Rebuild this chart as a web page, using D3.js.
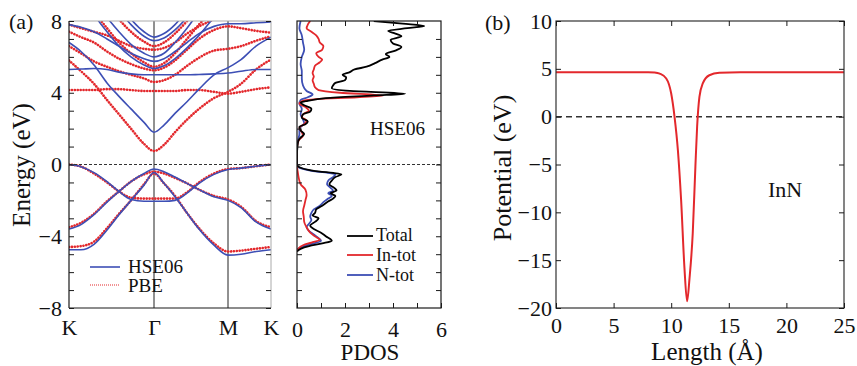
<!DOCTYPE html>
<html><head><meta charset="utf-8">
<script src="https://cdn.jsdelivr.net/npm/d3@7"></script>
<style>
body{margin:0;background:#fff}
text{font-family:"Liberation Serif","Times New Roman",serif;fill:#111}
</style>
</head><body><svg id="c" width="857" height="366"></svg>
<script>
// ---------- Panel (a): band structure ----------
const kPath  = [0, 12, 25, 38, 50, 62, 75, 85, 95, 106, 118, 130, 145, 159, 172, 187, 202];
const kTicks = [0, 85, 159, 202];
const kLabels = ["K", "Γ", "M", "K"];

const hseBands = [
  [0, -0.12, -0.45, -0.95, -1.5, -1.95, -2.05, -2.05, -2.05, -2.0, -1.6, -1.05, -0.55, -0.28, -0.2, -0.1, 0],
  [-3.6, -3.35, -2.8, -2.1, -1.5, -0.95, -0.5, -0.25, -0.4, -0.7, -1.05, -1.4, -1.8, -2.0, -2.4, -3.2, -3.6],
  [-4.75, -4.75, -4.45, -3.65, -2.8, -2.0, -1.15, -0.45, -1.05, -1.8, -2.7, -3.6, -4.5, -5.05, -5.0, -4.85, -4.75],
  [6.8, 6.3, 5.55, 4.55, 3.8, 3.1, 2.35, 1.8, 2.2, 2.85, 3.5, 4.2, 5.0, 5.4, 5.85, 6.6, 7.1],
  [5.3, 5.32, 5.35, 5.3, 5.15, 5.05, 5.0, 5.0, 5.0, 5.0, 5.0, 5.02, 5.05, 5.1, 5.2, 5.3, 5.3],
  [11, 10, 8.4, 7.4, 6.6, 6.0, 5.55, 5.35, 5.5, 5.9, 6.5, 7.2, 8.2, 9, 10, 11, 11],
  [7.8, 7.65, 7.4, 7.0, 6.6, 6.2, 5.9, 5.75, 5.9, 6.3, 6.8, 7.3, 7.7, 7.85, 7.85, 7.9, 7.95],
  [11, 10.5, 9.2, 8.2, 7.4, 6.7, 6.2, 6.0, 6.2, 6.8, 7.6, 8.5, 9.5, 10, 10, 10, 10],
  [11, 11, 10.5, 9.5, 8.6, 7.8, 7.15, 6.9, 7.05, 7.5, 8.2, 9.0, 10, 10, 10, 10, 10],
  [11, 11, 11, 10, 9.0, 8.1, 7.4, 7.1, 7.3, 7.8, 8.6, 9.5, 10, 10, 10, 10, 10]
];
const pbeBands = [
  [0, -0.12, -0.5, -1.0, -1.5, -1.85, -1.9, -1.9, -1.9, -1.9, -1.55, -1.0, -0.5, -0.25, -0.2, -0.1, 0],
  [-3.5, -3.25, -2.75, -2.05, -1.5, -0.95, -0.55, -0.4, -0.5, -0.75, -1.05, -1.4, -1.75, -1.95, -2.35, -3.15, -3.5],
  [-4.6, -4.55, -4.3, -3.55, -2.75, -2.0, -1.1, -0.5, -1.05, -1.75, -2.7, -3.55, -4.4, -4.85, -4.8, -4.7, -4.6],
  [5.8, 5.2, 4.5, 3.6, 2.8, 2.0, 1.15, 0.75, 1.1, 1.8, 2.5, 3.1, 3.7, 4.05, 4.5, 5.3, 5.85],
  [4.15, 4.15, 4.15, 4.2, 4.2, 4.15, 4.1, 4.1, 4.1, 4.1, 4.15, 4.15, 4.05, 3.95, 4.05, 4.2, 4.3],
  [6.6, 6.2, 5.75, 5.45, 5.2, 5.0, 4.8, 4.6, 4.7, 5.0, 5.5, 5.95, 6.35, 6.45, 6.6, 6.9, 7.15],
  [7.4, 7.1, 6.8, 6.3, 5.9, 5.6, 5.35, 5.25, 5.4, 5.8, 6.4, 7.0, 7.5, 7.7, 7.6, 7.45, 7.35],
  [7.8, 7.6, 7.4, 7.2, 6.9, 6.6, 6.45, 6.4, 6.5, 6.8, 7.3, 7.7, 8.1, 8.5, 9, 9, 9],
  [10, 9.4, 8.5, 7.6, 6.8, 6.2, 5.7, 5.45, 5.65, 6.2, 7.0, 7.8, 8.7, 9.5, 10, 10, 10],
  [11, 10.5, 9.8, 9.0, 8.1, 7.4, 6.85, 6.6, 6.8, 7.3, 8.0, 8.8, 9.8, 10, 10, 10, 10]
];
const energyTicks = [-8, -4, 0, 4, 8];

// ---------- PDOS: [energy (eV), PDOS] ----------
const pdosTotal = [[8.0,3.2],[7.85,4.4],[7.72,5.3],[7.6,4.6],[7.45,3.8],[7.3,4.1],[7.15,4.35],[6.95,3.9],[6.75,4.0],[6.55,4.35],[6.35,4.1],[6.15,3.7],[6.0,3.85],[5.85,3.55],[5.65,3.25],[5.45,2.9],[5.3,2.4],[5.15,2.2],[5.0,1.9],[4.85,2.05],[4.7,2.0],[4.55,1.6],[4.4,1.5],[4.25,1.45],[4.1,2.2],[3.95,4.5],[3.85,3.2],[3.7,1.2],[3.55,0.45],[3.45,0.15],[3.3,0.3],[3.1,0.6],[2.95,0.55],[2.8,0.25],[2.6,0.2],[2.4,0.45],[2.25,0.35],[2.1,0.1],[1.9,0.15],[1.7,0.3],[1.5,0.15],[1.3,0.05],[1.0,0.02],[0.6,0],[0,0],[-0.15,0.1],[-0.35,0.7],[-0.55,1.85],[-0.7,1.6],[-0.9,1.45],[-1.1,1.35],[-1.3,1.55],[-1.45,1.65],[-1.6,1.4],[-1.75,1.6],[-1.9,1.5],[-2.1,1.25],[-2.3,1.05],[-2.5,0.8],[-2.7,0.75],[-2.85,0.65],[-3.0,0.9],[-3.2,0.75],[-3.4,0.55],[-3.6,0.7],[-3.8,1.0],[-4.0,1.2],[-4.25,1.45],[-4.4,1.05],[-4.55,0.5],[-4.7,0.15],[-4.85,0]];
const pdosIn = [[8.0,0.55],[7.8,0.45],[7.6,0.4],[7.4,0.6],[7.2,0.8],[7.0,0.9],[6.8,0.95],[6.6,1.1],[6.4,1.05],[6.2,0.8],[6.0,0.9],[5.85,1.05],[5.7,0.95],[5.5,0.75],[5.3,0.7],[5.1,0.65],[4.9,0.7],[4.7,0.65],[4.5,0.7],[4.3,0.75],[4.15,0.9],[4.0,1.8],[3.85,3.6],[3.75,2.5],[3.65,0.8],[3.55,0.25],[3.4,0.1],[3.2,0.35],[3.0,0.5],[2.85,0.3],[2.65,0.2],[2.45,0.4],[2.25,0.3],[2.05,0.1],[1.8,0.2],[1.6,0.25],[1.4,0.1],[1.2,0.03],[0.8,0],[0,0],[-0.1,0],[-0.4,0.03],[-0.8,0.08],[-1.1,0.15],[-1.4,0.35],[-1.7,0.4],[-2.0,0.35],[-2.3,0.3],[-2.6,0.25],[-2.9,0.28],[-3.2,0.3],[-3.5,0.4],[-3.8,0.55],[-4.05,0.8],[-4.2,0.95],[-4.35,0.6],[-4.5,0.25],[-4.7,0.05],[-4.85,0]];
const pdosN = [[8.0,0.15],[7.6,0.1],[7.2,0.2],[6.8,0.25],[6.4,0.3],[6.0,0.2],[5.6,0.15],[5.2,0.2],[4.8,0.2],[4.4,0.25],[4.1,0.4],[3.9,0.65],[3.75,0.45],[3.6,0.15],[3.4,0.1],[3.1,0.2],[2.8,0.15],[2.5,0.25],[2.3,0.3],[2.0,0.1],[1.7,0.1],[1.4,0.05],[1.0,0],[0,0],[-0.15,0.05],[-0.35,0.6],[-0.55,1.6],[-0.7,1.5],[-0.9,1.3],[-1.1,1.25],[-1.3,1.4],[-1.45,1.5],[-1.6,1.3],[-1.75,1.45],[-1.9,1.3],[-2.1,1.1],[-2.3,0.95],[-2.5,0.7],[-2.7,0.6],[-2.9,0.55],[-3.1,0.6],[-3.3,0.5],[-3.5,0.4],[-3.7,0.5],[-3.9,0.7],[-4.1,0.9],[-4.25,1.0],[-4.4,0.7],[-4.55,0.3],[-4.7,0.05],[-4.85,0]];
const pdosTicks = [0, 2, 4, 6];

// ---------- Panel (b): potential ----------
const lengthA   = [0, 2, 4, 6, 8, 8.56, 9.0, 9.57, 10.0, 10.29, 10.58, 10.86, 11.15, 11.38, 11.59, 11.87, 12.10, 12.25, 12.45, 12.74, 13.31, 14.18, 16, 18, 20, 22, 25];
const potential = [4.65, 4.65, 4.65, 4.65, 4.65, 4.62, 4.5, 3.99, 2.42, -0.01, -3.49, -8.7, -15.8, -19.3, -16.9, -12.18, -5.22, -1.05, 2.07, 3.47, 4.33, 4.58, 4.65, 4.65, 4.65, 4.65, 4.65];
const lengthTicks = [0, 5, 10, 15, 20, 25];
const potentialTicks = [-20, -15, -10, -5, 0, 5, 10];

// ---------- drawing ----------
const svg = d3.select("#c");
const RED = "#e3282c", BLUE = "#3d4fb5", INK = "#1a1a1a";
const fmt = d3.format("");

const xA = d3.scaleLinear().domain([0, 202]).range([69, 271]);
const yA = d3.scaleLinear().domain([-8, 8]).range([308, 21]);
const xP = d3.scaleLinear().domain([0, 6]).range([297, 441]);
const xB = d3.scaleLinear().domain([0, 25]).range([556, 844]);
const yB = d3.scaleLinear().domain([-20, 10]).range([308, 21]);

const defs = svg.append("defs");
defs.append("clipPath").attr("id", "clipA").append("rect").attr("x", 69).attr("y", 21).attr("width", 202).attr("height", 287);
defs.append("clipPath").attr("id", "clipP").append("rect").attr("x", 297).attr("y", 21).attr("width", 144).attr("height", 287);

function styleAxis(g) {
  g.select(".domain").remove();
  g.selectAll(".tick line").attr("stroke", INK).attr("stroke-width", 1);
  g.selectAll("text").attr("fill", INK).style("font-family", '"Liberation Serif","Times New Roman",serif');
}

// Panel a: vertical symmetry lines
const gA = svg.append("g");
gA.selectAll("line.sym").data([85, 159]).join("line")
  .attr("x1", d => xA(d)).attr("x2", d => xA(d)).attr("y1", 21).attr("y2", 308)
  .attr("stroke", "#222").attr("stroke-width", 1);

const bandLine = d3.line().x((d, i) => xA(kPath[i])).y(d => yA(d)).curve(d3.curveMonotoneX);
const bandsG = gA.append("g").attr("clip-path", "url(#clipA)");
bandsG.selectAll("path.pbe").data(pbeBands).join("path")
  .attr("d", bandLine).attr("fill", "none").attr("stroke", RED)
  .attr("stroke-width", 2.6).attr("stroke-dasharray", "0.1,2.8").attr("stroke-linecap", "round");
bandsG.selectAll("path.hse").data(hseBands).join("path")
  .attr("d", bandLine).attr("fill", "none").attr("stroke", BLUE).attr("stroke-width", 1.6);

// zero dashed lines
[[69, 271], [297, 441]].forEach(([a, b]) => {
  svg.append("line").attr("x1", a).attr("x2", b).attr("y1", yA(0)).attr("y2", yA(0))
    .attr("stroke", "#333").attr("stroke-width", 1).attr("stroke-dasharray", "3,2");
});

// Panel a frame
svg.append("line").attr("x1", 69).attr("x2", 271).attr("y1", 21).attr("y2", 21).attr("stroke", "#aaa");
svg.append("line").attr("x1", 271).attr("x2", 271).attr("y1", 21).attr("y2", 308).attr("stroke", "#aaa");
svg.append("line").attr("x1", 69).attr("x2", 69).attr("y1", 21).attr("y2", 308).attr("stroke", INK).attr("stroke-width", 1.2);
svg.append("line").attr("x1", 69).attr("x2", 271).attr("y1", 308).attr("y2", 308).attr("stroke", INK).attr("stroke-width", 1.2);

const eTicksAll = d3.range(-8, 9, 1);
svg.append("g").attr("transform", "translate(69,0)")
  .call(d3.axisLeft(yA).tickValues(eTicksAll).tickSizeInner(-5).tickSizeOuter(0).tickPadding(7)
    .tickFormat(d => energyTicks.includes(d) ? fmt(d) : ""))
  .call(styleAxis).call(g => g.selectAll("text").style("font-size", "22px"));
svg.append("g").attr("transform", "translate(271,0)")
  .call(d3.axisRight(yA).tickValues(eTicksAll).tickSizeInner(-5).tickSizeOuter(0).tickFormat(""))
  .call(styleAxis);
svg.append("g").attr("transform", "translate(0,308)")
  .call(d3.axisBottom(xA).tickValues(kTicks).tickSize(0).tickPadding(11).tickFormat((d, i) => kLabels[i]))
  .call(styleAxis).call(g => g.selectAll("text").style("font-size", "22px"));

// band legend
svg.append("line").attr("x1", 90).attr("x2", 120).attr("y1", 267).attr("y2", 267).attr("stroke", BLUE).attr("stroke-width", 1.6);
svg.append("line").attr("x1", 90).attr("x2", 120).attr("y1", 285).attr("y2", 285).attr("stroke", RED)
  .attr("stroke-width", 1.2).attr("stroke-dasharray", "1,1");
svg.append("text").attr("x", 128).attr("y", 273).style("font-size", "19px").text("HSE06");
svg.append("text").attr("x", 128).attr("y", 292).style("font-size", "19px").text("PBE");

// (a) label and y title
svg.append("text").attr("x", 9).attr("y", 29).style("font-size", "22px").text("(a)");
svg.append("text").attr("transform", "translate(30,165) rotate(-90)").attr("text-anchor", "middle")
  .style("font-size", "25px").text("Energy (eV)");

// PDOS panel
const pdosLine = d3.line().x(d => xP(d[1])).y(d => yA(d[0])).curve(d3.curveMonotoneY);
const pG = svg.append("g").attr("clip-path", "url(#clipP)");
pG.append("path").datum(pdosN).attr("d", pdosLine).attr("fill", "none").attr("stroke", BLUE).attr("stroke-width", 1.8);
pG.append("path").datum(pdosIn).attr("d", pdosLine).attr("fill", "none").attr("stroke", RED).attr("stroke-width", 1.8);
pG.append("path").datum(pdosTotal).attr("d", pdosLine).attr("fill", "none").attr("stroke", "#000").attr("stroke-width", 1.8);

svg.append("rect").attr("x", 297).attr("y", 21).attr("width", 144).attr("height", 287)
  .attr("fill", "none").attr("stroke", INK).attr("stroke-width", 1.2);
const pTicksAll = d3.range(0, 7, 1);
svg.append("g").attr("transform", "translate(0,308)")
  .call(d3.axisBottom(xP).tickValues(pTicksAll).tickSizeInner(-5).tickSizeOuter(0).tickPadding(13)
    .tickFormat(d => pdosTicks.includes(d) ? fmt(d) : ""))
  .call(styleAxis).call(g => g.selectAll("text").style("font-size", "22px"));
svg.append("g").attr("transform", "translate(0,21)")
  .call(d3.axisTop(xP).tickValues(pTicksAll.slice(1, 6)).tickSizeInner(-5).tickSizeOuter(0).tickFormat(""))
  .call(styleAxis);
svg.append("g").attr("transform", "translate(297,0)")
  .call(d3.axisLeft(yA).tickValues(eTicksAll.slice(1, 16)).tickSizeInner(-5).tickSizeOuter(0).tickFormat(""))
  .call(styleAxis);
svg.append("g").attr("transform", "translate(441,0)")
  .call(d3.axisRight(yA).tickValues(eTicksAll.slice(1, 16)).tickSizeInner(-5).tickSizeOuter(0).tickFormat(""))
  .call(styleAxis);
svg.append("text").attr("x", 370).attr("y", 360).attr("text-anchor", "middle").style("font-size", "23px").text("PDOS");
svg.append("text").attr("x", 370).attr("y", 135).style("font-size", "19px").text("HSE06");

// PDOS legend
const pdosLegend = [["Total", "#000", 236, 241], ["In-tot", RED, 255, 261], ["N-tot", BLUE, 275, 281]];
pdosLegend.forEach(([t, c, ly, ty]) => {
  svg.append("line").attr("x1", 347).attr("x2", 373).attr("y1", ly).attr("y2", ly).attr("stroke", c).attr("stroke-width", 1.8);
  svg.append("text").attr("x", 376).attr("y", ty).style("font-size", "18px").text(t);
});

// Panel b
svg.append("line").attr("x1", 556).attr("x2", 844).attr("y1", yB(0)).attr("y2", yB(0))
  .attr("stroke", "#333").attr("stroke-width", 1.5).attr("stroke-dasharray", "6,4");
const potLine = d3.line().x((d, i) => xB(lengthA[i])).y(d => yB(d)).curve(d3.curveMonotoneX);
svg.append("path").datum(potential).attr("d", potLine).attr("fill", "none").attr("stroke", RED).attr("stroke-width", 2);
svg.append("rect").attr("x", 556).attr("y", 21).attr("width", 288).attr("height", 287)
  .attr("fill", "none").attr("stroke", "#333").attr("stroke-width", 1.2);
svg.append("g").attr("transform", "translate(556,0)")
  .call(d3.axisLeft(yB).tickValues(potentialTicks).tickSizeInner(-5).tickSizeOuter(0).tickPadding(4).tickFormat(fmt))
  .call(styleAxis).call(g => g.selectAll("text").style("font-size", "22px"));
svg.append("g").attr("transform", "translate(844,0)")
  .call(d3.axisRight(yB).tickValues(potentialTicks).tickSizeInner(-5).tickSizeOuter(0).tickFormat(""))
  .call(styleAxis);
svg.append("g").attr("transform", "translate(0,308)")
  .call(d3.axisBottom(xB).tickValues(lengthTicks).tickSizeInner(-5).tickSizeOuter(0).tickPadding(9).tickFormat(fmt))
  .call(styleAxis).call(g => g.selectAll("text").style("font-size", "22px"));
svg.append("g").attr("transform", "translate(0,21)")
  .call(d3.axisTop(xB).tickValues(lengthTicks).tickSizeInner(-5).tickSizeOuter(0).tickFormat(""))
  .call(styleAxis);
svg.append("text").attr("x", 485).attr("y", 30).style("font-size", "22px").text("(b)");
svg.append("text").attr("transform", "translate(511,168) rotate(-90)").attr("text-anchor", "middle")
  .style("font-size", "26px").text("Potential (eV)");
svg.append("text").attr("x", 707).attr("y", 360).attr("text-anchor", "middle").style("font-size", "25px").text("Length (Å)");
svg.append("text").attr("x", 768).attr("y", 197).style("font-size", "22px").text("InN");
</script>
</body></html>
